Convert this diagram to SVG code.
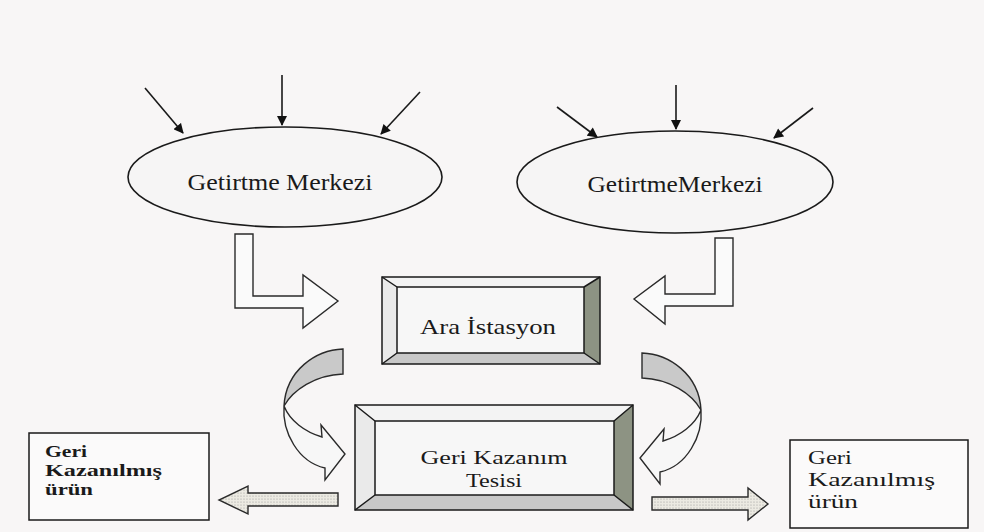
<svg xmlns="http://www.w3.org/2000/svg" width="984" height="532" viewBox="0 0 984 532">
  <defs>
    <marker id="ah" viewBox="0 0 10 10" refX="9" refY="5" markerWidth="11" markerHeight="10" markerUnits="userSpaceOnUse" orient="auto">
      <path d="M0,0 L10,5 L0,10 Z" fill="#111"/>
    </marker>
    <pattern id="dots" width="3" height="3" patternUnits="userSpaceOnUse">
      <rect width="3" height="3" fill="#eceae2"/>
      <circle cx="1" cy="1" r="0.6" fill="#9a9a9a"/>
    </pattern>
    <style>
      .line { stroke: #1a1a1a; stroke-width: 1.5; fill: none; }
      .in { stroke: #1a1a1a; stroke-width: 1.6; fill: none; marker-end: url(#ah); }
      .ell { fill: #f6f5f5; stroke: #1a1a1a; stroke-width: 1.6; }
      .lbl { font-family: "Liberation Serif", "Times New Roman", serif; fill: #1a1a1a; }
      .shape { stroke: #2a2a2a; stroke-width: 1.4; stroke-linejoin: miter; }
      .bt { fill: #f3f3f3; }
      .bl { fill: #eaeaea; }
      .bb { fill: #c8c8c8; }
      .br { fill: #8d9383; }
      .face { fill: #f7f7f7; }
    </style>
  </defs>
  <rect width="984" height="532" fill="#f8f6f6"/>

  <g id="connectors">
    <line class="in" x1="145" y1="88" x2="183" y2="133"/>
    <line class="in" x1="282" y1="75" x2="282" y2="125"/>
    <line class="in" x1="420" y1="92" x2="381" y2="134"/>
    <line class="in" x1="557" y1="107" x2="597" y2="137"/>
    <line class="in" x1="676" y1="85" x2="676" y2="129"/>
    <line class="in" x1="813" y1="108" x2="774" y2="138"/>

    <path class="shape" fill="#fafafa" d="M235,234 L253,234 L253,296 L303,296 L303,275 L338,301 L303,328 L303,308 L235,308 Z"/>
    <path class="shape" fill="#fafafa" d="M733,238 L715,238 L715,294 L665,294 L665,276 L634,299 L665,324 L665,306 L733,306 Z"/>

    <path class="shape" fill="#c9c9c9" d="M343,349 C316,350 286,370 284,406 C293,390 315,375 343,374 Z"/>
    <path class="shape" fill="#f7f7f7" d="M284,406 C282,432 298,462 325,468 L325,480 L345,454 L321,425 L322,437 C305,432 290,421 284,406 Z"/>

    <path class="shape" fill="#c9c9c9" d="M642,353 C669,354 699,374 701,410 C692,394 670,379 642,378 Z"/>
    <path class="shape" fill="#f7f7f7" d="M701,410 C703,436 687,466 660,472 L660,484 L640,458 L664,429 L663,441 C680,436 695,425 701,410 Z"/>

    <path class="shape" fill="url(#dots)" d="M338,493 L248,493 L248,486 L219,500 L248,514 L248,506 L338,506 Z"/>
    <path class="shape" fill="url(#dots)" d="M652,497 L748,497 L748,488 L768,504 L748,520 L748,510 L652,510 Z"/>
  </g>

  <g id="getirtme1">
    <ellipse class="ell" cx="285" cy="177" rx="157" ry="50"/>
    <text class="lbl" x="280" y="190" font-size="24" text-anchor="middle" textLength="185" lengthAdjust="spacingAndGlyphs">Getirtme Merkezi</text>
  </g>

  <g id="getirtme2">
    <ellipse class="ell" cx="675" cy="182" rx="158" ry="51"/>
    <text class="lbl" x="675" y="192" font-size="23" text-anchor="middle" textLength="175" lengthAdjust="spacingAndGlyphs">GetirtmeMerkezi</text>
  </g>

  <g id="ara">
    <rect class="face" x="397" y="287" width="187" height="66"/>
    <polygon class="bt" points="382,277 600,277 584,287 397,287"/>
    <polygon class="bl" points="382,277 397,287 397,353 382,364"/>
    <polygon class="bb" points="382,364 397,353 584,353 600,364"/>
    <polygon class="br" points="600,277 600,364 584,353 584,287"/>
    <g class="line">
      <rect x="382" y="277" width="218" height="87"/>
      <rect x="397" y="287" width="187" height="66"/>
      <path d="M382,277 L397,287 M600,277 L584,287 M382,364 L397,353 M600,364 L584,353"/>
    </g>
    <text class="lbl" x="488" y="334" font-size="22" text-anchor="middle" textLength="136" lengthAdjust="spacingAndGlyphs">Ara İstasyon</text>
  </g>

  <g id="geri-kazanim">
    <rect class="face" x="375" y="421" width="239" height="74"/>
    <polygon class="bt" points="355,405 633,405 614,421 375,421"/>
    <polygon class="bl" points="355,405 375,421 375,495 355,510"/>
    <polygon class="bb" points="355,510 375,495 614,495 633,510"/>
    <polygon class="br" points="633,405 633,510 614,495 614,421"/>
    <g class="line">
      <rect x="355" y="405" width="278" height="105"/>
      <rect x="375" y="421" width="239" height="74"/>
      <path d="M355,405 L375,421 M633,405 L614,421 M355,510 L375,495 M633,510 L614,495"/>
    </g>
    <text class="lbl" x="494" y="464" font-size="19" text-anchor="middle" textLength="147" lengthAdjust="spacingAndGlyphs">Geri Kazanım</text>
    <text class="lbl" x="494" y="487" font-size="19" text-anchor="middle" textLength="56" lengthAdjust="spacingAndGlyphs">Tesisi</text>
  </g>

  <g id="urun-left">
    <rect x="29" y="433" width="180" height="87" fill="#fbfafa" stroke="#1a1a1a" stroke-width="1.5"/>
    <text class="lbl" font-size="16" font-weight="bold">
      <tspan x="45" y="457" textLength="42" lengthAdjust="spacingAndGlyphs">Geri</tspan>
      <tspan x="45" y="476" textLength="117" lengthAdjust="spacingAndGlyphs">Kazanılmış</tspan>
      <tspan x="45" y="495" textLength="48" lengthAdjust="spacingAndGlyphs">ürün</tspan>
    </text>
  </g>

  <g id="urun-right">
    <rect x="790" y="440" width="178" height="88" fill="#fbfafa" stroke="#1a1a1a" stroke-width="1.5"/>
    <text class="lbl" font-size="18">
      <tspan x="808" y="464" textLength="44" lengthAdjust="spacingAndGlyphs">Geri</tspan>
      <tspan x="808" y="486" textLength="127" lengthAdjust="spacingAndGlyphs">Kazanılmış</tspan>
      <tspan x="808" y="508" textLength="50" lengthAdjust="spacingAndGlyphs">ürün</tspan>
    </text>
  </g>
</svg>
